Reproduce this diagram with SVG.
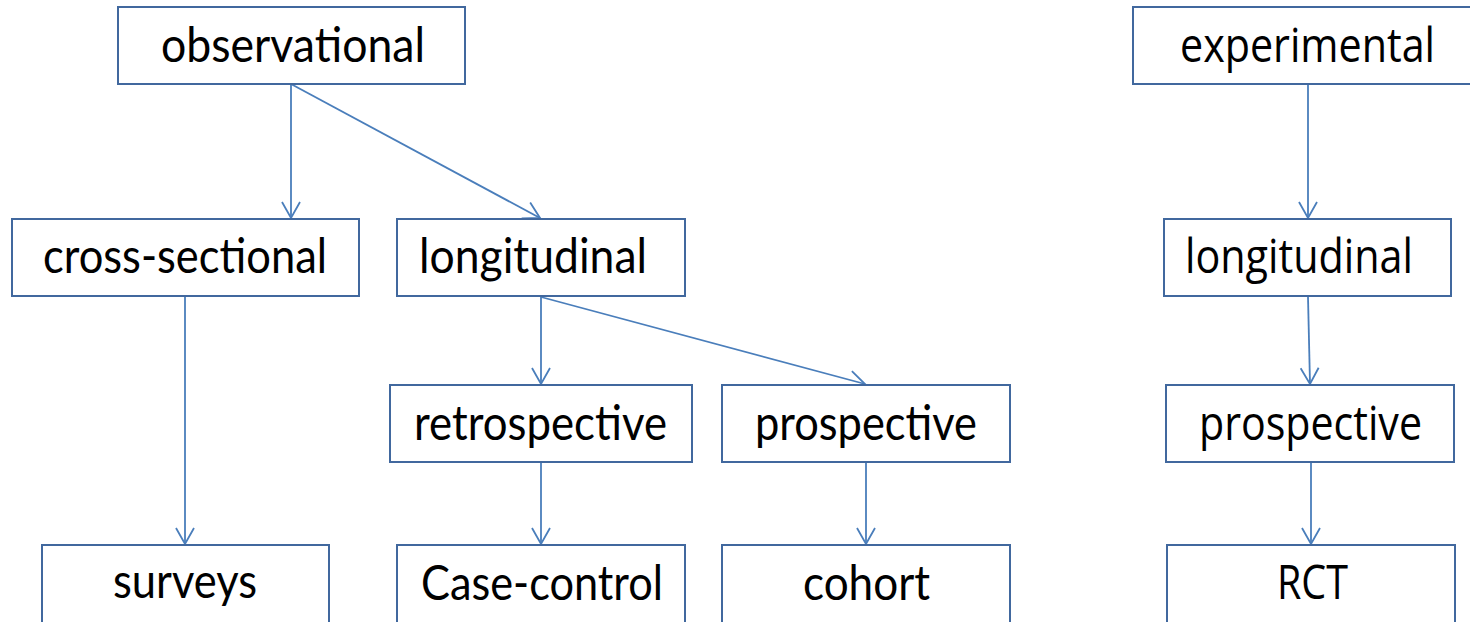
<svg xmlns="http://www.w3.org/2000/svg" width="1470" height="622" viewBox="0 0 1470 622">
<style>
.box{fill:#ffffff;stroke:#41689e;stroke-width:2}
.conn{fill:none;stroke:#4a7ebb;stroke-width:1.8;marker-end:url(#arr)}
.tl{font-family:Lato,"Noto Sans","Liberation Sans",sans-serif;font-size:48px;fill:#000}
.tr{font-family:"Open Sans","Noto Sans","Liberation Sans",sans-serif;font-size:48px;fill:#000}
</style>
<defs>
<marker id="arr" markerUnits="userSpaceOnUse" markerWidth="40" markerHeight="40" viewBox="-20 -20 40 40" refX="0" refY="0" orient="auto">
<path d="M-16,-9 L0,0 L-16,9" fill="none" stroke="#4a7ebb" stroke-width="1.8"/>
</marker>
</defs>
<rect width="1470" height="622" fill="#ffffff"/>
<g id="connectors">
<line class="conn" x1="291" y1="84" x2="291" y2="218"/>
<line class="conn" x1="291" y1="84" x2="540" y2="218"/>
<line class="conn" x1="185" y1="297" x2="185" y2="544"/>
<line class="conn" x1="541" y1="297" x2="541" y2="384"/>
<line class="conn" x1="541" y1="297" x2="865" y2="384"/>
<line class="conn" x1="541" y1="462" x2="541" y2="544"/>
<line class="conn" x1="866" y1="462" x2="866" y2="544"/>
<line class="conn" x1="1308" y1="84" x2="1308" y2="218"/>
<line class="conn" x1="1308" y1="297" x2="1310" y2="384"/>
<line class="conn" x1="1311" y1="463" x2="1311" y2="544"/>
</g>
<g id="observational">
<rect class="box" x="118" y="7" width="347" height="77"/>
<text class="tl" x="161" y="62" textLength="264" lengthAdjust="spacingAndGlyphs">observational</text>
</g>
<g id="cross-sectional">
<rect class="box" x="12" y="219" width="347" height="77"/>
<text class="tl" x="43" y="273" textLength="284" lengthAdjust="spacingAndGlyphs">cross-sectional</text>
</g>
<g id="longitudinal-obs">
<rect class="box" x="397" y="219" width="288" height="77"/>
<text class="tl" x="419" y="273" textLength="228" lengthAdjust="spacingAndGlyphs">longitudinal</text>
</g>
<g id="retrospective">
<rect class="box" x="390" y="385" width="302" height="77"/>
<text class="tl" x="414" y="440" textLength="253" lengthAdjust="spacingAndGlyphs">retrospective</text>
</g>
<g id="prospective-obs">
<rect class="box" x="722" y="385" width="288" height="77"/>
<text class="tl" x="755" y="440" textLength="222" lengthAdjust="spacingAndGlyphs">prospective</text>
</g>
<g id="surveys">
<rect class="box" x="42" y="545" width="287" height="90"/>
<text class="tl" x="113" y="598" textLength="144" lengthAdjust="spacingAndGlyphs">surveys</text>
</g>
<g id="case-control">
<rect class="box" x="397" y="545" width="288" height="90"/>
<text class="tl" x="421" y="600" textLength="242" lengthAdjust="spacingAndGlyphs">Case-control</text>
</g>
<g id="cohort">
<rect class="box" x="722" y="545" width="288" height="90"/>
<text class="tl" x="803" y="600" textLength="127" lengthAdjust="spacingAndGlyphs">cohort</text>
</g>
<g id="experimental">
<rect class="box" x="1133" y="7" width="345" height="77"/>
<text class="tr" x="1180" y="62" textLength="255" lengthAdjust="spacingAndGlyphs">experimental</text>
</g>
<g id="longitudinal-exp">
<rect class="box" x="1164" y="219" width="287" height="77"/>
<text class="tr" x="1185" y="273" textLength="228" lengthAdjust="spacingAndGlyphs">longitudinal</text>
</g>
<g id="prospective-exp">
<rect class="box" x="1166" y="385" width="288" height="77"/>
<text class="tr" x="1199" y="440" textLength="223" lengthAdjust="spacingAndGlyphs">prospective</text>
</g>
<g id="rct">
<rect class="box" x="1167" y="545" width="288" height="90"/>
<text class="tr" x="1277" y="599" textLength="71" lengthAdjust="spacingAndGlyphs">RCT</text>
</g>
</svg>
